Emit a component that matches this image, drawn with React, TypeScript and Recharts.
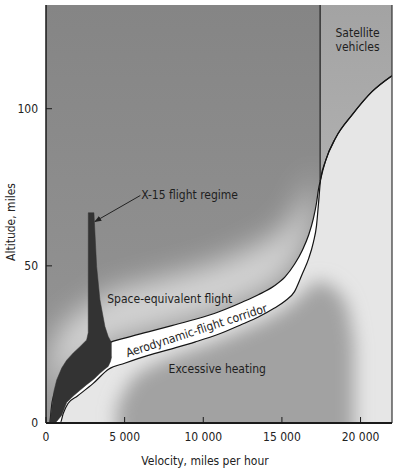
import React from "react";
import {
  ComposedChart,
  Area,
  Line,
  XAxis,
  YAxis,
  ReferenceArea,
  ReferenceLine,
  ReferenceDot,
} from "recharts";

const velocityTicks = [0, 5000, 10000, 15000, 20000];
const altitudeTicks = [0, 50, 100];
const velocityMax = 22000;
const altitudeMax = 133;
const orbitalVelocity = 17430;

// aerodynamic-flight corridor (mph / miles)
const corridorVelocity = [250, 400, 900, 1100, 1400, 2000, 3000, 4000, 5000, 6500, 8000, 9500, 11000, 12500, 13500, 14500, 15200, 15800, 16300, 16700, 17000, 17200, 17330, 17460, 17780, 18415, 19475, 20745, 22000];
const corridorUpper = [0, 7, 13, 14.5, 16.5, 19, 22, 25.5, 27, 29, 31, 33, 35.4, 38.5, 40.8, 43.6, 46.5, 50.5, 55, 59.8, 65, 70, 74.5, 77.5, 83.5, 90.7, 98.1, 105.5, 110.5];
const corridorLower = [0, 0, 0, 3.1, 6.2, 8.6, 12.6, 17.2, 19, 21.5, 23.6, 25.8, 28.3, 31.5, 33.7, 36.5, 38.8, 41.8, 47.5, 52.3, 57.5, 62.8, 70, 77.5, 83.5, 90.7, 98.1, 105.5, 110.5];

// X-15 flight regime (dark shape)
const x15Velocity = [254, 362, 500, 680, 1000, 1315, 1734, 2160, 2584, 2686, 2690, 3048, 3219, 3429, 3747, 3956, 4100, 4172];
const x15Top = [0.4, 5, 10, 13.7, 17.5, 20, 22.3, 24.3, 26.4, 28.7, 66.9, 66.9, 49.8, 39.2, 30.7, 27.5, 26.2, 25.5];
const x15Bottom = [0, 0, 0, 0.5, 2.5, 6.5, 8.6, 10.4, 12.2, 12.6, 12.6, 14, 14.8, 15.8, 17.2, 18, 19.6, 21.1];

// darker "excessive heating" patch below the corridor
const heatVelocity = [4500, 5500, 6500, 8000, 10000, 12000, 14000, 15500, 16500, 17300, 18500, 19200, 19600];
const heatTop = [5, 14, 17.5, 21, 24.5, 28.5, 33, 37.5, 42, 45, 42, 36, 25];

const arrowVelocity = [6000, 3110];
const arrowAltitude = [72.4, 64.1];

const notes = [
  { text: "X-15 flight regime", v: 6050, h: 72.4, anchor: "start", angle: 0 },
  { text: "Space-equivalent flight", v: 7870, h: 39.4, anchor: "middle", angle: 0 },
  { text: "Aerodynamic-flight corridor", v: 9570, h: 29.4, anchor: "middle", angle: -18 },
  { text: "Excessive heating", v: 10890, h: 17.2, anchor: "middle", angle: 0 },
  { text: "Satellite", v: 19810, h: 124.2, anchor: "middle", angle: 0 },
  { text: "vehicles", v: 19810, h: 119.7, anchor: "middle", angle: 0 },
];

const FONT = '"Liberation Sans Narrow", "DejaVu Sans Condensed", "Open Sans", sans-serif';

const corridorRows = corridorVelocity.map((v, i) => ({ v, lo: corridorLower[i], hi: corridorUpper[i] }));
const satelliteRows = corridorRows.filter((r) => r.v >= 17460);
const glowRows = corridorRows.filter((r) => r.v <= 17000);
const x15Rows = x15Velocity.map((v, i) => ({ v, lo: x15Bottom[i], hi: x15Top[i] }));
const heatRows = heatVelocity.map((v, i) => ({ v, h: heatTop[i] }));
const arrowRows = arrowVelocity.map((v, i) => ({ v, h: arrowAltitude[i] }));

const fmtVelocity = (v: number) => String(v).replace(/\B(?=(\d{3})+$)/g, " ");

const App = () => {
  return (
    <div style={{ position: "absolute", left: 0, top: 0, background: "#fff" }}>
      <ComposedChart width={398} height={469} margin={{ top: 5, right: 6, bottom: 0, left: 0 }}>
        <defs>
          <filter id="blurWide" filterUnits="userSpaceOnUse" x="0" y="0" width="398" height="469">
            <feGaussianBlur stdDeviation="14" />
          </filter>
          <filter id="blurMid" filterUnits="userSpaceOnUse" x="0" y="0" width="398" height="469">
            <feGaussianBlur stdDeviation="9" />
          </filter>
          <linearGradient id="spaceFill" x1="0" y1="0" x2="0" y2="1">
            <stop offset="0%" stopColor="#858585" />
            <stop offset="60%" stopColor="#8f8f8f" />
            <stop offset="100%" stopColor="#969696" />
          </linearGradient>
          <linearGradient id="satFill" x1="0" y1="0" x2="0" y2="1">
            <stop offset="0%" stopColor="#a3a3a3" />
            <stop offset="100%" stopColor="#b0b0b0" />
          </linearGradient>
          <marker id="arrowhead" viewBox="0 0 10 10" refX="9" refY="5" markerWidth="7" markerHeight="7" orient="auto" markerUnits="userSpaceOnUse">
            <path d="M0,1 L10,5 L0,9 z" fill="#222" />
          </marker>
        </defs>
        <XAxis
          dataKey="v"
          type="number"
          domain={[0, velocityMax]}
          allowDataOverflow
          ticks={velocityTicks}
          tickFormatter={fmtVelocity}
          height={46}
          tickSize={-6}
          tickMargin={15}
          axisLine={{ stroke: "#1a1a1a", strokeWidth: 2 }}
          tickLine={{ stroke: "#1a1a1a" }}
          tick={{ fill: "#222", fontSize: 12, fontFamily: FONT }}
          label={{
            content: ({ viewBox }: any) => (
              <text x={viewBox.x + viewBox.width / 2 - 14} y={viewBox.y + 42} textAnchor="middle" fontSize={12} fontFamily={FONT} fill="#222">
                Velocity, miles per hour
              </text>
            ),
          }}
        />
        <YAxis
          type="number"
          domain={[0, altitudeMax]}
          allowDataOverflow
          ticks={altitudeTicks}
          width={46}
          tickSize={-6}
          tickMargin={14}
          axisLine={{ stroke: "#1a1a1a", strokeWidth: 1.5 }}
          tickLine={{ stroke: "#1a1a1a" }}
          tick={{ fill: "#222", fontSize: 12, fontFamily: FONT }}
          label={{
            content: ({ viewBox }: any) => {
              const x = viewBox.x + 11;
              const y = viewBox.y + viewBox.height / 2 + 8;
              return (
                <text x={x} y={y} textAnchor="middle" dominantBaseline="central" transform={`rotate(-90 ${x} ${y})`} fontSize={12} fontFamily={FONT} fill="#222">
                  Altitude, miles
                </text>
              );
            },
          }}
        />

        <ReferenceArea x1={0} x2={velocityMax} y1={0} y2={altitudeMax} fill="url(#spaceFill)" fillOpacity={1} stroke="none" />

        {/* light glow along the space side of the corridor */}
        <Area data={glowRows} dataKey={(d: any) => [d.hi, d.hi + 16]} type="monotone" fill="#ffffff" fillOpacity={0.6} stroke="none" filter="url(#blurWide)" isAnimationActive={false} />
        {/* region below the corridor, then the heating patch over it */}
        <Area data={corridorRows} dataKey="lo" type="monotone" fill="#e6e6e6" fillOpacity={1} stroke="none" isAnimationActive={false} />
        <Area data={heatRows} dataKey="h" type="monotone" baseValue={-20} fill="#a2a2a2" fillOpacity={1} stroke="none" filter="url(#blurMid)" isAnimationActive={false} />

        <Area data={satelliteRows} dataKey={(d: any) => [d.hi, altitudeMax]} type="monotone" fill="url(#satFill)" fillOpacity={1} stroke="none" isAnimationActive={false} />
        <Area data={corridorRows} dataKey={(d: any) => [d.lo, d.hi]} type="monotone" fill="#ffffff" fillOpacity={1} stroke="#151515" strokeWidth={1.2} isAnimationActive={false} />
        <Area data={x15Rows} dataKey={(d: any) => [d.lo, d.hi]} type="linear" fill="#333333" fillOpacity={1} stroke="#333333" strokeWidth={0.5} isAnimationActive={false} />

        <ReferenceLine segment={[{ x: orbitalVelocity, y: 77 }, { x: orbitalVelocity, y: altitudeMax }]} stroke="#222" strokeWidth={1.2} />
        <ReferenceLine x={velocityMax} stroke="#333" strokeWidth={1.2} />

        <Line data={arrowRows} dataKey="h" type="linear" stroke="#222" strokeWidth={1} dot={false} markerEnd="url(#arrowhead)" isAnimationActive={false} />

        {notes.map((n) => (
          <ReferenceDot
            key={n.text}
            x={n.v}
            y={n.h}
            r={0}
            shape={(p: any) => (
              <text
                x={p.cx}
                y={p.cy}
                textAnchor={n.anchor as any}
                dominantBaseline="central"
                transform={n.angle ? `rotate(${n.angle} ${p.cx} ${p.cy})` : undefined}
                fontSize={12}
                fontFamily={FONT}
                fill="#1e1e1e"
              >
                {n.text}
              </text>
            )}
          />
        ))}
      </ComposedChart>
    </div>
  );
};

export default App;
